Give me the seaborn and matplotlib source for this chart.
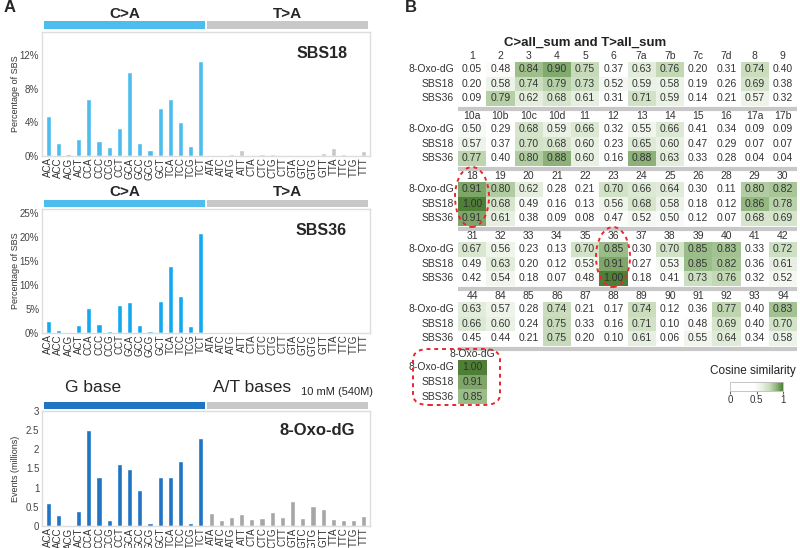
import numpy as np
import pandas as pd
import matplotlib
matplotlib.use("Agg")
import matplotlib.pyplot as plt
import seaborn as sns
from matplotlib.colors import LinearSegmentedColormap
from matplotlib.patches import Ellipse, FancyBboxPatch, Rectangle
from matplotlib.transforms import blended_transform_factory

# ---- data -----------------------------------------------------------------
contexts = ["ACA", "ACC", "ACG", "ACT", "CCA", "CCC", "CCG", "CCT",
            "GCA", "GCC", "GCG", "GCT", "TCA", "TCC", "TCG", "TCT",
            "ATA", "ATC", "ATG", "ATT", "CTA", "CTC", "CTG", "CTT",
            "GTA", "GTC", "GTG", "GTT", "TTA", "TTC", "TTG", "TTT"]
groups = ["C>A"] * 16 + ["T>A"] * 16

sbs18_pct = [4.8, 1.5, 0.2, 2.0, 6.8, 1.8, 1.1, 3.3, 10.0, 1.6, 0.7, 5.7, 6.8, 4.0, 1.2, 11.3,
             0.15, 0.05, 0.25, 0.7, 0.05, 0.25, 0.25, 0.15, 0.1, 0.15, 0.15, 0.35, 1.0, 0.25, 0.15, 0.6]
sbs36_pct = [2.4, 0.7, 0.1, 1.6, 5.3, 1.9, 0.5, 5.8, 6.5, 1.7, 0.35, 6.7, 13.9, 7.6, 1.4, 20.8,
             0.1, 0.1, 0.1, 0.2, 0.1, 0.1, 0.1, 0.1, 0.1, 0.1, 0.1, 0.1, 0.1, 0.1, 0.1, 0.2]
oxo_events = [0.6, 0.28, 0.03, 0.39, 2.5, 1.27, 0.15, 1.63, 1.5, 0.93, 0.07, 1.28, 1.28, 1.7, 0.07, 2.3,
              0.33, 0.15, 0.23, 0.31, 0.19, 0.21, 0.37, 0.23, 0.65, 0.21, 0.52, 0.44, 0.17, 0.15, 0.15, 0.25]

row_names = ["8-Oxo-dG", "SBS18", "SBS36"]
block_cols = [
    ["1", "2", "3", "4", "5", "6", "7a", "7b", "7c", "7d", "8", "9"],
    ["10a", "10b", "10c", "10d", "11", "12", "13", "14", "15", "16", "17a", "17b"],
    ["18", "19", "20", "21", "22", "23", "24", "25", "26", "28", "29", "30"],
    ["31", "32", "33", "34", "35", "36", "37", "38", "39", "40", "41", "42"],
    ["44", "84", "85", "86", "87", "88", "89", "90", "91", "92", "93", "94"],
]
block_vals = [
    [[0.05, 0.48, 0.84, 0.90, 0.75, 0.37, 0.63, 0.76, 0.20, 0.31, 0.74, 0.40],
     [0.20, 0.58, 0.74, 0.79, 0.73, 0.52, 0.59, 0.58, 0.19, 0.26, 0.69, 0.38],
     [0.09, 0.79, 0.62, 0.68, 0.61, 0.31, 0.71, 0.59, 0.14, 0.21, 0.57, 0.32]],
    [[0.50, 0.29, 0.68, 0.59, 0.66, 0.32, 0.55, 0.66, 0.41, 0.34, 0.09, 0.09],
     [0.57, 0.37, 0.70, 0.68, 0.60, 0.23, 0.65, 0.60, 0.47, 0.29, 0.07, 0.07],
     [0.77, 0.40, 0.80, 0.88, 0.60, 0.16, 0.88, 0.63, 0.33, 0.28, 0.04, 0.04]],
    [[0.91, 0.80, 0.62, 0.28, 0.21, 0.70, 0.66, 0.64, 0.30, 0.11, 0.80, 0.82],
     [1.00, 0.68, 0.49, 0.16, 0.13, 0.56, 0.68, 0.58, 0.18, 0.12, 0.86, 0.78],
     [0.91, 0.61, 0.38, 0.09, 0.08, 0.47, 0.52, 0.50, 0.12, 0.07, 0.68, 0.69]],
    [[0.67, 0.56, 0.23, 0.13, 0.70, 0.85, 0.30, 0.70, 0.85, 0.83, 0.33, 0.72],
     [0.49, 0.63, 0.20, 0.12, 0.53, 0.91, 0.27, 0.53, 0.85, 0.82, 0.36, 0.61],
     [0.42, 0.54, 0.18, 0.07, 0.48, 1.00, 0.18, 0.41, 0.73, 0.76, 0.32, 0.52]],
    [[0.63, 0.57, 0.28, 0.74, 0.21, 0.17, 0.74, 0.12, 0.36, 0.77, 0.40, 0.83],
     [0.66, 0.60, 0.24, 0.75, 0.33, 0.16, 0.71, 0.10, 0.48, 0.69, 0.40, 0.70],
     [0.45, 0.44, 0.21, 0.75, 0.20, 0.10, 0.61, 0.06, 0.55, 0.64, 0.34, 0.58]],
]
self_col = ["8-Oxo-dG"]
self_vals = [[1.00], [0.91], [0.85]]

# ---- style ----------------------------------------------------------------
sns.set_style("white")
plt.rcParams["font.family"] = ["Liberation Sans", "DejaVu Sans"]

W, H = 800, 548
fig = plt.figure(figsize=(8, 5.48), dpi=100)


def px_axes(x0, y0, x1, y1):
    # pixel box (top-left origin) -> figure axes
    return fig.add_axes([x0 / W, 1 - y1 / H, (x1 - x0) / W, (y1 - y0) / H])


def fig_text(x, y, s, **kw):
    fig.text(x / W, 1 - y / H, s, **kw)


cosine_cmap = LinearSegmentedColormap.from_list(
    "cos", [(0, "#ffffff"), (0.45, "#ffffff"), (0.6, "#e9f1e4"), (0.75, "#c8dcbb"),
            (0.88, "#8db37a"), (1.0, "#4f7f36")])


def bar_panel(box, values, palette, ymax, yticks, yticklabels, ylabel, name, name_size):
    ax = px_axes(*box)
    df = pd.DataFrame({"ctx": contexts, "val": values, "grp": groups})
    sns.barplot(data=df, x="ctx", y="val", hue="grp", palette=palette, dodge=False,
                legend=False, width=0.5, saturation=1, ax=ax)
    ax.set_xlim(-0.6, 31.6)
    ax.set_ylim(0, ymax)
    ax.set_yticks(yticks)
    ax.set_yticklabels(yticklabels, fontsize=7, color="#444444")
    ax.tick_params(axis="x", labelrotation=90, labelsize=7, labelcolor="#333333", length=0, pad=1)
    ax.tick_params(axis="y", length=0, pad=2)
    ax.set_xlabel("")
    ax.set_ylabel(ylabel, fontsize=6.5, color="#333333")
    ax.yaxis.set_label_coords(-22 / 328, 0.5)
    for sp in ax.spines.values():
        sp.set_color("#dddddd")
        sp.set_linewidth(1)
    ax.text(0.93, 0.83, name, transform=ax.transAxes, ha="right", va="center",
            fontsize=name_size, fontweight="bold")
    return ax


def band(ax, box, colors, y_top, y_bot, labels=None, text_y=None):
    # coloured group bands above a panel (pixel y positions)
    h = box[3] - box[1]
    tr = blended_transform_factory(ax.transData, ax.transAxes)
    b0 = (box[3] - y_bot) / h
    b1 = (box[3] - y_top) / h
    for (x0, x1), c in zip([(-0.45, 15.45), (15.55, 31.45)], colors):
        ax.add_patch(Rectangle((x0, b0), x1 - x0, b1 - b0, transform=tr,
                               color=c, clip_on=False, lw=0))
    if labels:
        ty = (box[3] - text_y) / h
        for xc, lab in zip([7.5, 23.5], labels):
            ax.text(xc, ty, lab, transform=tr, ha="center", va="center",
                    fontsize=11, fontweight="bold")


# panel A1: SBS18
box1 = (42, 32, 370, 156)
ax1 = bar_panel(box1, sbs18_pct, {"C>A": "#4dbdee", "T>A": "#c8c8c8"}, 14.7,
                [0, 4, 8, 12], ["0%", "4%", "8%", "12%"], "Percentage of SBS", "SBS18", 11.5)
band(ax1, box1, ["#4dbdee", "#c8c8c8"], 21, 28.5, ["C>A", "T>A"], 14)

# panel A2: SBS36
box2 = (42, 209, 370, 333)
ax2 = bar_panel(box2, sbs36_pct, {"C>A": "#14a9ef", "T>A": "#c8c8c8"}, 25.8,
                [0, 5, 10, 15, 20, 25], ["0%", "5%", "10%", "15%", "20%", "25%"],
                "Percentage of SBS", "SBS36", 11.5)
band(ax2, box2, ["#4dbdee", "#c8c8c8"], 200, 207, ["C>A", "T>A"], 192)

# panel A3: 8-Oxo-dG
box3 = (42, 411, 370, 526)
ax3 = bar_panel(box3, oxo_events, {"C>A": "#1f74c4", "T>A": "#a6a6a6"}, 3.0,
                [0, 0.5, 1, 1.5, 2, 2.5, 3], ["0", "0.5", "1", "1.5", "2", "2.5", "3"],
                "Events (millions)", "8-Oxo-dG", 12)
ax3.texts[-1].set_x(0.955)
band(ax3, box3, ["#1f74c4", "#c8c8c8"], 402, 409)
fig_text(65, 388, "G base", fontsize=12.5, va="center", ha="left")
fig_text(213, 388, "A/T bases", fontsize=12.5, va="center", ha="left")
fig_text(301, 392, "10 mM (540M)", fontsize=8, va="center", ha="left")

fig_text(4, 8, "A", fontsize=12, fontweight="bold", va="center")
fig_text(405, 8, "B", fontsize=12, fontweight="bold", va="center")

# ---- panel B: cosine similarity heatmaps ----------------------------------
fig_text(585, 43, "C>all_sum and T>all_sum", fontsize=9.5, fontweight="bold",
         ha="center", va="center", color="#222222")

hm_kw = dict(annot=True, fmt=".2f", cbar=False, cmap=cosine_cmap, vmin=0, vmax=1,
             annot_kws={"fontsize": 7.5, "color": "#333333"})

for i, (cols, vals) in enumerate(zip(block_cols, block_vals)):
    top = 62 + 60 * i
    ax = px_axes(458, top, 797, top + 43.5)
    df = pd.DataFrame(vals, index=row_names, columns=cols)
    sns.heatmap(df, ax=ax, xticklabels=cols, yticklabels=row_names, **hm_kw)
    ax.xaxis.tick_top()
    ax.tick_params(axis="both", length=0, labelsize=7.5, labelcolor="#333333", pad=1)
    ax.tick_params(axis="y", labelrotation=0, pad=3)
    ax.tick_params(axis="x", labelrotation=0)
    ax.plot([0, 1], [-0.07, -0.07], transform=ax.transAxes, clip_on=False,
            color="#c8c8c8", lw=3, solid_capstyle="butt")

ax_self = px_axes(458, 360, 487, 404)
sns.heatmap(pd.DataFrame(self_vals, index=row_names, columns=self_col), ax=ax_self,
            xticklabels=self_col, yticklabels=row_names, **hm_kw)
ax_self.xaxis.tick_top()
ax_self.tick_params(axis="both", length=0, labelsize=7.5, labelcolor="#333333", pad=1)
ax_self.tick_params(axis="y", labelrotation=0, pad=3)
ax_self.tick_params(axis="x", labelrotation=0)

# red dashed highlights
red = "#e8262c"
for cx, cy in [(472, 197), (613, 257)]:
    fig.add_artist(Ellipse((cx / W, 1 - cy / H), 34 / W, 60 / H, transform=fig.transFigure,
                           fill=False, ec=red, lw=1.4, ls=(0, (2, 2))))
fig.add_artist(FancyBboxPatch((413 / W, 1 - 405 / H), 87 / W, 56 / H,
                              boxstyle="round,pad=0,rounding_size=0.02",
                              transform=fig.transFigure, fill=False, ec=red, lw=1.4,
                              ls=(0, (2, 2))))

# colour legend
cax = px_axes(730, 382, 783, 391)
sm = plt.cm.ScalarMappable(cmap=cosine_cmap, norm=plt.Normalize(0, 1))
cb = fig.colorbar(sm, cax=cax, orientation="horizontal", ticks=[0, 0.5, 1])
cb.ax.set_xticklabels(["0", "0.5", "1"])
cb.ax.tick_params(labelsize=7, length=2, color="#666666", labelcolor="#333333", pad=1)
cb.outline.set_edgecolor("#bbbbbb")
cb.outline.set_linewidth(0.6)
fig_text(796, 371, "Cosine similarity", fontsize=8.5, ha="right", va="center", color="#222222")

fig.savefig("out.png", dpi=100)
